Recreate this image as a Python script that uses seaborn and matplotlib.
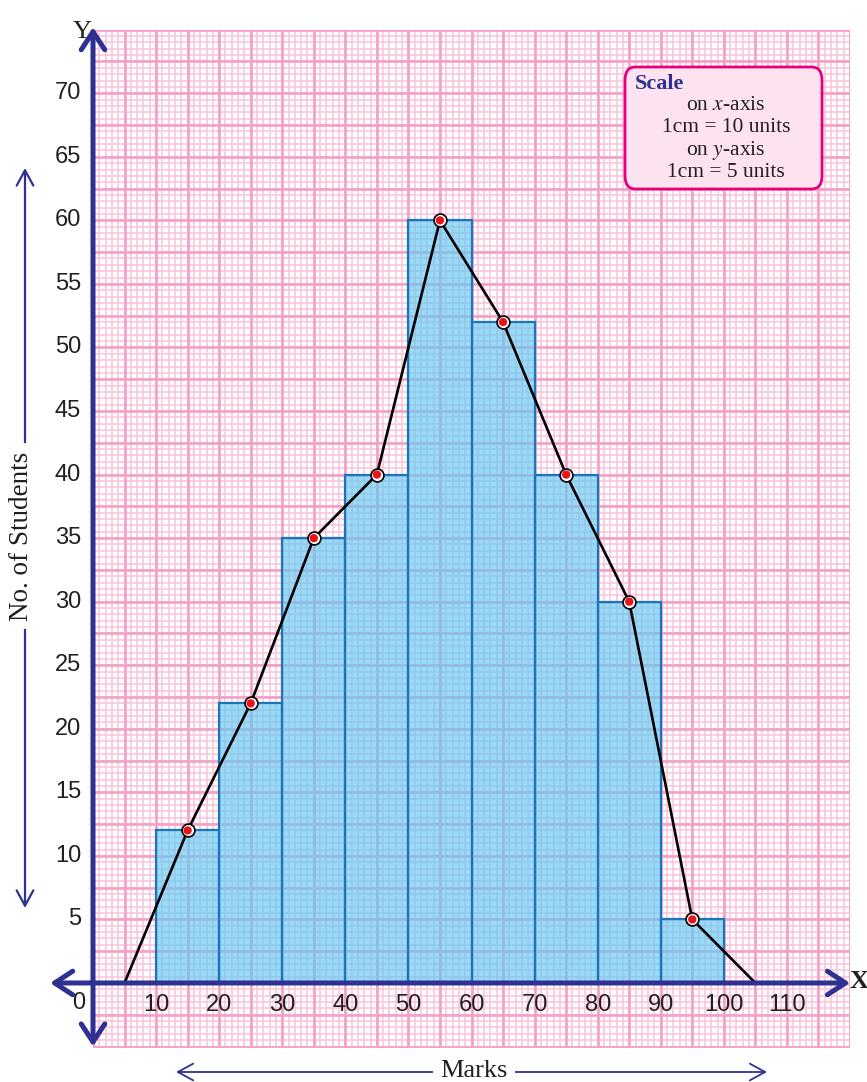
import numpy as np
import pandas as pd
import matplotlib
matplotlib.use("Agg")
import matplotlib.pyplot as plt
from matplotlib.patches import FancyArrowPatch, FancyBboxPatch
import seaborn as sns

# ---- data -------------------------------------------------------------
class_edges = [10, 20, 30, 40, 50, 60, 70, 80, 90, 100]
frequencies = [12, 22, 35, 40, 60, 52, 40, 30, 5]
x_tick_values = [10, 20, 30, 40, 50, 60, 70, 80, 90, 100, 110]
y_tick_values = [5, 10, 15, 20, 25, 30, 35, 40, 45, 50, 55, 60, 65, 70]

class_mids = [(a + b) / 2 for a, b in zip(class_edges[:-1], class_edges[1:])]
# frequency polygon closes on the empty classes either side
poly_x = [class_edges[0] - 5] + class_mids + [class_edges[-1] + 5]
poly_y = [0] + frequencies + [0]

hist_df = pd.DataFrame({"marks": class_mids, "students": frequencies})
poly_df = pd.DataFrame({"marks": poly_x, "students": poly_y})

# ---- style ------------------------------------------------------------
sns.set_theme(style="white")
plt.rcParams["font.family"] = ["Liberation Sans", "DejaVu Sans"]
plt.rcParams["mathtext.fontset"] = "stix"

NAVY = "#2e3192"
PINK_MAJOR = "#f5a0c6"
PINK_MINOR = "#f9c3da"
BAR_FACE = "#5fc8f2"
BAR_EDGE = "#1b75bc"
SERIF = ["Liberation Serif", "DejaVu Serif"]

W, H = 867, 1082
fig = plt.figure(figsize=(W / 100, H / 100), dpi=100)
ax = fig.add_axes([93 / W, 1 - 1047.8 / H, (850 - 93) / W, (1047.8 - 29.7) / H])

XMIN, XMAX, YMIN, YMAX = 0, 120, -5.1, 75
ax.set_xlim(XMIN, XMAX)
ax.set_ylim(YMIN, YMAX)
for s in ax.spines.values():
    s.set_visible(False)
ax.set_xticks([])
ax.set_yticks([])

# ---- graph paper ------------------------------------------------------
ax.vlines(np.arange(XMIN, XMAX + 0.01, 1), YMIN, YMAX, color=PINK_MINOR, lw=1.1, zorder=0)
ax.hlines(np.arange(-5, YMAX + 0.01, 0.5), XMIN, XMAX, color=PINK_MINOR, lw=1.1, zorder=0)
ax.vlines(np.arange(XMIN, XMAX + 0.01, 5), YMIN, YMAX, color=PINK_MAJOR, lw=1.9, zorder=0.1)
ax.hlines(np.arange(-5, YMAX + 0.01, 2.5), XMIN, XMAX, color=PINK_MAJOR, lw=1.9, zorder=0.1)

# ---- histogram --------------------------------------------------------
sns.histplot(data=hist_df, x="marks", weights="students", bins=class_edges,
             color=BAR_FACE, alpha=0.64, edgecolor=BAR_EDGE, linewidth=1.6,
             ax=ax, zorder=2)

# ---- frequency polygon ------------------------------------------------
sns.lineplot(data=poly_df, x="marks", y="students", color="black", lw=1.9,
             ax=ax, zorder=4)
sns.scatterplot(data=hist_df, x="marks", y="students", s=85, color="white",
                edgecolor="black", linewidth=1.2, ax=ax, zorder=5)
sns.scatterplot(data=hist_df, x="marks", y="students", s=36, color="#e8141c",
                edgecolor="none", ax=ax, zorder=6)
ax.set_xlim(XMIN, XMAX)
ax.set_ylim(YMIN, YMAX)
ax.set_xlabel("")
ax.set_ylabel("")
ax.set_xticks([])
ax.set_yticks([])

# ---- axes with arrow heads --------------------------------------------
axis_style = "<->, head_length=13, head_width=8.5"
ax.add_patch(FancyArrowPatch((-6.8, 0), (XMAX, 0), arrowstyle=axis_style,
                             mutation_scale=1, color=NAVY, lw=3.6,
                             clip_on=False, zorder=8, shrinkA=0, shrinkB=0))
ax.add_patch(FancyArrowPatch((0, -5.0), (0, 75.2), arrowstyle=axis_style,
                             mutation_scale=1, color=NAVY, lw=3.6,
                             clip_on=False, zorder=8, shrinkA=0, shrinkB=0))

ax.text(-1.7, 74.8, "Y", family=SERIF, fontsize=19, ha="center", va="center",
        color="#231f20", clip_on=False)
ax.text(121.4, 0.1, "X", family=SERIF, fontsize=19, ha="center", va="center",
        color="#231f20", clip_on=False, fontweight="bold")

# ---- tick labels ------------------------------------------------------
for v in y_tick_values:
    ax.text(-1.9, v, str(v), ha="right", va="center", fontsize=17,
            color="#231f20", clip_on=False)
for v in x_tick_values:
    ax.text(v, -1.75, str(v), ha="center", va="center", fontsize=17,
            color="#231f20", clip_on=False)
ax.text(-2.2, -1.55, "0", ha="center", va="center", fontsize=17,
        color="#231f20", clip_on=False)

# ---- axis titles with guide arrows ------------------------------------
def fx(px):
    return px / W


def fy(py):
    return 1 - py / H


guide_style = "<->, head_length=11, head_width=6"
fig.patches.append(FancyArrowPatch((fx(25), fy(908)), (fx(25), fy(168)),
                                   transform=fig.transFigure, figure=fig,
                                   arrowstyle=guide_style, mutation_scale=1,
                                   color=NAVY, lw=1.6, shrinkA=0, shrinkB=0))
fig.text(fx(22), fy(536), "No. of Students", rotation=90, family=SERIF,
         fontsize=19.5, ha="center", va="center", color="#231f20",
         bbox=dict(facecolor="white", edgecolor="none", pad=6))

fig.patches.append(FancyArrowPatch((fx(176), fy(1072)), (fx(767), fy(1072)),
                                   transform=fig.transFigure, figure=fig,
                                   arrowstyle=guide_style, mutation_scale=1,
                                   color=NAVY, lw=1.3, shrinkA=0, shrinkB=0))
fig.text(fx(474), fy(1071), "Marks", family=SERIF, fontsize=19,
         ha="center", va="center", color="#231f20",
         bbox=dict(facecolor="white", edgecolor="none", pad=5))

# ---- scale note -------------------------------------------------------
box = FancyBboxPatch((fx(625), fy(189)), fx(822) - fx(625), fy(67) - fy(189),
                     boxstyle="round,pad=0,rounding_size=0.012",
                     transform=fig.transFigure, figure=fig,
                     facecolor="#fde3f0", edgecolor="#e6007e", lw=2.0, zorder=9)
fig.patches.append(box)
fig.text(fx(635), fy(84), "Scale", family=SERIF, fontweight="bold",
         fontsize=16, color=NAVY, ha="left", va="center", zorder=10)
scale_lines = ["on $x$-axis", "1cm = 10 units", "on $y$-axis", "1cm = 5 units"]
for i, line in enumerate(scale_lines):
    fig.text(fx(726), fy(105 + 22.5 * i), line, family=SERIF, fontsize=15.5,
             color="#231f20", ha="center", va="center", zorder=10)

fig.savefig("out.png", dpi=100)
